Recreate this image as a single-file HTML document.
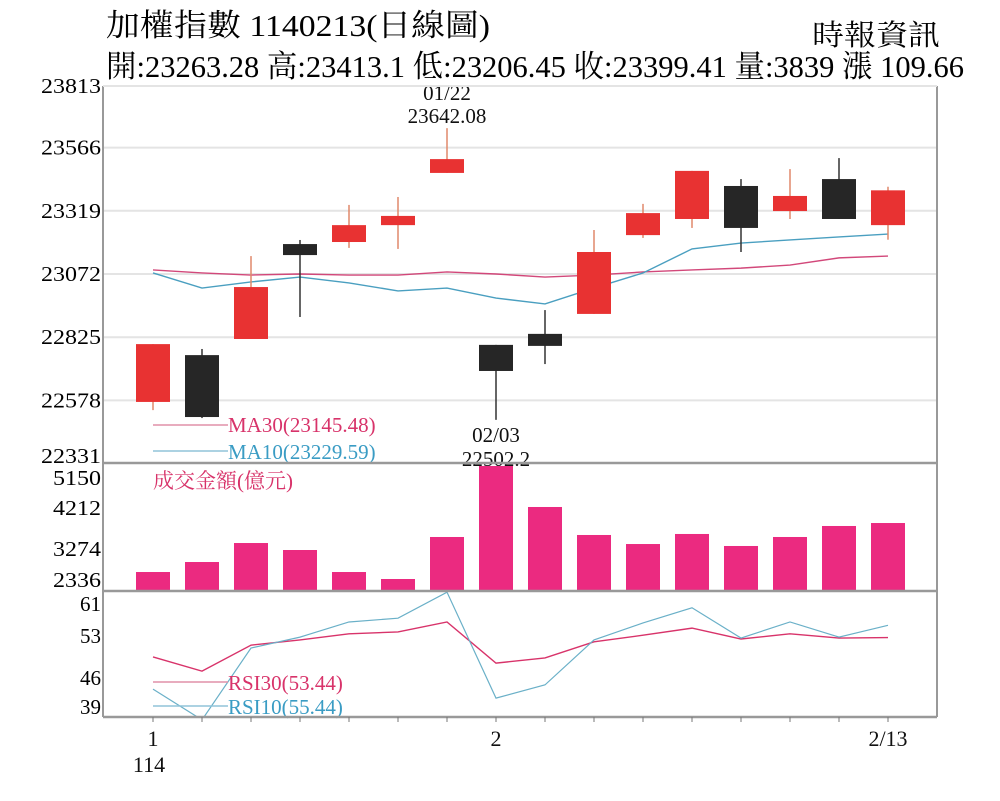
<!DOCTYPE html>
<html><head><meta charset="utf-8">
<style>
html,body{margin:0;padding:0;background:#fff;}
svg{display:block;}
text{font-family:"Liberation Serif","Noto Serif CJK TC","Noto Sans CJK TC",serif;}
</style></head>
<body>
<svg id="chart" width="1000" height="801" viewBox="0 0 1000 801" xmlns="http://www.w3.org/2000/svg">
<text x="106" y="36" font-size="31" textLength="384" lengthAdjust="spacingAndGlyphs">加權指數 1140213(日線圖)</text>
<text x="812" y="45" font-size="29" textLength="128" lengthAdjust="spacingAndGlyphs">時報資訊</text>
<text x="106" y="77" font-size="31" textLength="858" lengthAdjust="spacingAndGlyphs">開:23263.28 高:23413.1 低:23206.45 收:23399.41 量:3839 漲 109.66</text>
<g id="grid"></g>
<g id="price"></g>
<g id="vol"></g>
<g id="rsi"></g>
<g id="frame"></g>
</svg>
<script>
// ---- data ----
const dates = ["01/02","01/03","01/06","01/07","01/08","01/09","01/10","01/13","01/14","01/15","01/16","01/17","01/20","01/21","01/22","02/03"];
const opens  = [22572,22755,22818,23189,23197,23263,23467,22795,22838,22916,23224,23287,23416,23318,23443,23263];
const closes = [22798,22513,23021,23146,23263,23299,23521,22693,22791,23158,23310,23475,23252,23377,23287,23399];
const highs  = [22798,22779,23142,23205,23342,23373,23642,22795,22931,23244,23346,23475,23443,23482,23525,23413];
const lows   = [22540,22509,22818,22904,23174,23170,23467,22502,22720,22916,23213,23252,23158,23287,23287,23206];
const ma30   = [23088,23076,23068,23072,23068,23068,23080,23072,23060,23068,23080,23088,23095,23107,23135,23142];
const ma10   = [23076,23017,23041,23060,23037,23006,23017,22978,22955,23017,23076,23170,23193,23205,23217,23228];
const volume = [2510,2759,3232,3058,2510,2336,3382,5150,4129,3432,3207,3457,3158,3382,3656,3730];
const rsi30  = [49.8,46.8,52.3,53.4,54.7,55.1,57.2,48.5,49.6,53.0,54.4,55.9,53.6,54.7,53.8,53.9];
const rsi10  = [43.0,36.5,51.7,54.0,57.2,58.0,63.5,41.1,43.9,53.4,57.0,60.2,53.8,57.2,54.0,56.5];
const priceTicks = [23813,23566,23319,23072,22825,22578,22331];
const volTicks = [5150,4212,3274,2336];
const rsiTicks = [61,53,46,39];
const xLabels = [{i:0,t:"1"},{i:7,t:"2"},{i:15,t:"2/13"}];

// ---- axes ----
const NS="http://www.w3.org/2000/svg";
const L=103,R=937,T=86,S1=463,S2=591,B=717;
const x = i => 153 + i*49;
const yP = v => 274 - (v-23072)*63.2/247;
const yV = v => 579 - (v-2336)*0.04016;
const yR = v => 604 + (61-v)*4.73;
function mk(tag,attrs,parent){const e=document.createElementNS(NS,tag);for(const k in attrs)e.setAttribute(k,attrs[k]);parent.appendChild(e);return e;}
const gGrid=document.getElementById('grid'),gP=document.getElementById('price'),gV=document.getElementById('vol'),gR=document.getElementById('rsi'),gF=document.getElementById('frame');

priceTicks.forEach(v=>{
  const y=yP(v);
  if(v!==22331 && v!==23813){const g=mk('line',{x1:L,x2:R,y1:y,y2:y,stroke:'#e4e4e4','stroke-width':2},gGrid);
  
  }
  const t=mk('text',{x:101,y:Math.min(Math.max(y,T)+7,S1),'font-size':21,'text-anchor':'end',textLength:60,lengthAdjust:'spacingAndGlyphs'},gF);
  t.textContent=v;
  
  
});
volTicks.forEach((v,k)=>{
  const ys=[478,508,549,580];
  const t=mk('text',{x:101,y:ys[k]+7,'font-size':21,'text-anchor':'end',textLength:48,lengthAdjust:'spacingAndGlyphs'},gF);
  t.textContent=v;
  
  
});
rsiTicks.forEach((v,k)=>{
  const ys=[604,636,678,707];
  const t=mk('text',{x:101,y:ys[k]+7,'font-size':21,'text-anchor':'end'},gF);
  t.textContent=v;
  
  
});

function poly(arr,yf,color,parent,name,w){
  const p=mk('polyline',{points:arr.map((v,i)=>x(i)+','+yf(v)).join(' '),fill:'none',stroke:color,'stroke-width':w||1.4},parent);
  
  
  return p;
}
poly(ma30,yP,'#d2487a',gP,'ma30-line');
poly(ma10,yP,'#4a9fc0',gP,'ma10-line');

dates.forEach((d,i)=>{
  const up=closes[i]>=opens[i];
  const col=up?'#e83232':'#262626';
  const wc=up?'#e0886a':'#333';
  const w=mk('line',{x1:x(i),x2:x(i),y1:yP(highs[i]),y2:yP(lows[i]),stroke:wc,'stroke-width':1.5},gP);
  
  
  const top=yP(Math.max(opens[i],closes[i])),bot=yP(Math.min(opens[i],closes[i]));
  const r=mk('rect',{x:x(i)-17,y:top,width:34,height:Math.max(bot-top,2),fill:col},gP);
  
  
});

function txt(s,xx,yy,size,color,parent,name,anchor){const t=mk('text',{x:xx,y:yy,'font-size':size,fill:color,'text-anchor':anchor||'middle'},parent);t.textContent=s;

return t;}
txt('01/22',x(6),100,21,'#111',gP,'high-date-annotation');
txt('23642.08',x(6),123,21,'#111',gP,'high-value-annotation');
txt('02/03',x(7),442,21,'#111',gP,'low-date-annotation');
txt('22502.2',x(7),466,21,'#111',gP,'low-value-annotation');
let l1=mk('line',{x1:153,x2:228,y1:425,y2:425,stroke:'#e090a8','stroke-width':1.5},gP);


txt('MA30(23145.48)',228,432,21,'#d8336a',gP,'ma30-legend','start');
let l2=mk('line',{x1:153,x2:228,y1:451,y2:451,stroke:'#90c4d8','stroke-width':1.5},gP);


txt('MA10(23229.59)',228,459,21,'#3a9cc4',gP,'ma10-legend','start');

volume.forEach((v,i)=>{
  const r=mk('rect',{x:x(i)-17,y:yV(v),width:34,height:591-yV(v),fill:'#eb2a80'},gV);
  
  
});
txt('成交金額(億元)',153,488,21,'#d8336a',gV,'volume-title','start');

const cp=mk('clipPath',{id:'rc'},gR);mk('rect',{x:L,y:S2,width:R-L,height:B-S2},cp);
const gRc=mk('g',{'clip-path':'url(#rc)'},gR);
poly(rsi30,yR,'#d8336a',gRc,'rsi30-line');
poly(rsi10,yR,'#6ab0c8',gRc,'rsi10-line',1.2);
let l3=mk('line',{x1:153,x2:228,y1:682,y2:682,stroke:'#e090a8','stroke-width':1.5},gR);


txt('RSI30(53.44)',228,690,21,'#d8336a',gR,'rsi30-legend','start');
let l4=mk('line',{x1:153,x2:228,y1:706,y2:706,stroke:'#90c4d8','stroke-width':1.5},gR);


txt('RSI10(55.44)',228,714,21,'#3a9cc4',gR,'rsi10-legend','start');

[[L,T,L,B],[R,T,R,B],[L,T,R,T],[L,S1,R,S1],[L,S2,R,S2],[L,B,R,B]].forEach((c,k)=>{
  const ln=mk('line',{x1:c[0],y1:c[1],x2:c[2],y2:c[3],stroke:k==2?'#e4e4e4':'#999','stroke-width':k>=3?2.5:2},gF);
  
  
});
dates.forEach((d,i)=>{
  const tk=mk('line',{x1:x(i),x2:x(i),y1:B,y2:B+5,stroke:'#777','stroke-width':1},gF);
  
  
});
xLabels.forEach(o=>{txt(o.t,x(o.i),746,22,'#111',gF,'x-axis-label');});
txt('114',x(0)-4,772,22,'#111',gF,'x-axis-year-label');
</script>
</body></html>
